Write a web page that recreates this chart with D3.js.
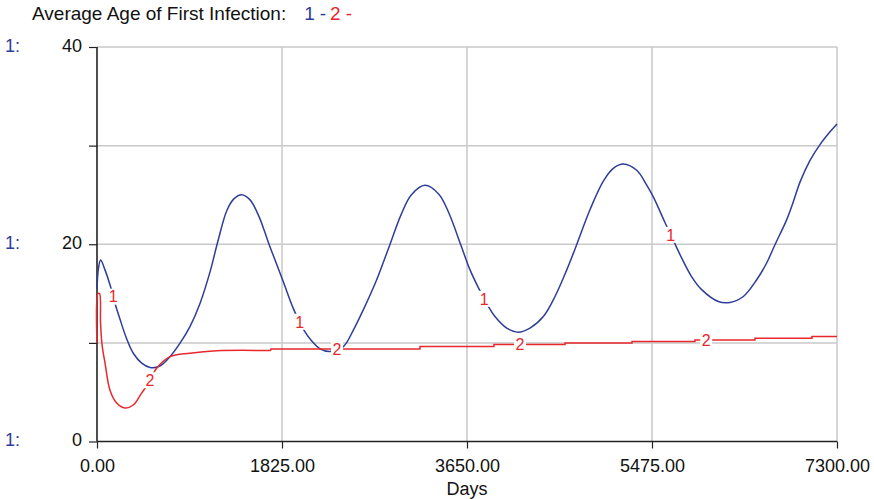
<!DOCTYPE html>
<html>
<head>
<meta charset="utf-8">
<script src="https://cdn.jsdelivr.net/npm/d3@7"></script>
<style>
  html, body { margin: 0; padding: 0; background: #fff; }
  svg { display: block; font-family: "Liberation Sans", Arial, Helvetica, sans-serif; }
</style>
</head>
<body>
<svg id="chart" width="874" height="499"></svg>
<script>
// Series 1: average age of first infection (days, years)
const series1 = [
  [0, 15.5], [15, 17.6], [36, 18.4], [79, 17.4], [128, 15.9], [178, 14.0],
  [227, 12.4], [293, 10.4], [358, 8.95], [441, 7.94], [523, 7.5], [621, 7.66],
  [720, 8.6], [819, 9.97], [917, 11.65], [1016, 14.0], [1115, 17.2], [1190, 20.2],
  [1280, 23.4], [1350, 24.6], [1427, 25.03], [1510, 24.5], [1590, 23.0],
  [1650, 21.4], [1697, 20.0], [1760, 18.3], [1838, 16.2], [1936, 13.5],
  [2035, 11.4], [2118, 10.2], [2200, 9.4], [2298, 9.12], [2430, 9.62],
  [2529, 11.3], [2627, 13.35], [2759, 16.4], [2880, 19.7], [3000, 23.0],
  [3100, 25.0], [3236, 25.97], [3370, 25.1], [3470, 23.2], [3590, 19.9],
  [3680, 17.4], [3762, 15.6], [3844, 14.0], [3926, 12.67], [4042, 11.5],
  [4156, 11.09], [4271, 11.5], [4403, 12.67], [4518, 14.7], [4634, 17.4],
  [4715, 19.5], [4863, 23.5], [4995, 26.4], [5093, 27.7], [5192, 28.14],
  [5324, 27.5], [5423, 26.0], [5488, 24.8], [5603, 22.2], [5685, 20.4],
  [5768, 18.6], [5867, 16.7], [5965, 15.4], [6129, 14.2], [6244, 14.1],
  [6376, 14.7], [6508, 16.4], [6606, 18.1], [6688, 19.95], [6804, 22.5],
  [6869, 24.3], [6935, 26.3], [7034, 28.5], [7132, 30.1], [7231, 31.4],
  [7300, 32.2]
];

// Series 2: comparison run; from day 1716 on it climbs in small steps
const series2 = [
  [0, 10.0], [10, 15.0], [25, 15.0], [35, 12.0], [50, 9.8], [80, 7.9],
  [128, 5.2], [194, 3.9], [276, 3.4], [358, 3.7], [440, 4.9], [506, 5.9],
  [587, 7.4], [720, 8.6], [917, 8.95], [1180, 9.2], [1716, 9.22], [1716, 9.39],
  [3186, 9.39], [3186, 9.62], [3916, 9.62], [3916, 9.83], [4617, 9.83],
  [4617, 10.0], [5278, 10.0], [5278, 10.13], [5899, 10.13], [5899, 10.3],
  [6491, 10.3], [6491, 10.48], [7053, 10.48], [7053, 10.64], [7300, 10.64]
];

// Where the series numbers sit along each curve (days)
const labelDays1 = [160, 2000, 3820, 5660];
const labelDays2 = [523, 2368, 4173, 6010];

const xTicks = [0, 1825, 3650, 5475, 7300];
const yTicks = [0, 10, 20, 30, 40];
const yLabelTicks = [0, 20, 40];

const title = "Average Age of First Infection:";
const xTitle = "Days";

const BLUE = "#2e3d98";
const RED = "#e8282c";
const GRID = "#c9c9c9";
const AXIS = "#222";
const FONT = 18;

const svg = d3.select("#chart");
const plotLeft = 97, plotRight = 837, plotTop = 47, plotBottom = 441.5;

const x = d3.scaleLinear().domain([0, 7300]).range([plotLeft, plotRight]);
const y = d3.scaleLinear().domain([0, 40]).range([plotBottom, plotTop]);

// Grid
svg.append("g").selectAll("line").data(yTicks.filter(d => d > 0)).join("line")
  .attr("x1", plotLeft).attr("x2", plotRight)
  .attr("y1", d => y(d)).attr("y2", d => y(d))
  .attr("stroke", GRID).attr("stroke-width", 1.5);
svg.append("g").selectAll("line").data(xTicks.filter(d => d > 0)).join("line")
  .attr("x1", d => x(d)).attr("x2", d => x(d))
  .attr("y1", plotTop).attr("y2", plotBottom)
  .attr("stroke", GRID).attr("stroke-width", 1.5);

// Axes
const yAxis = d3.axisLeft(y).tickValues(yTicks).tickSize(8).tickFormat("");
svg.append("g").attr("transform", `translate(${plotLeft},0)`).call(yAxis)
  .call(g => g.select(".domain").attr("stroke", AXIS).attr("stroke-width", 1.6).attr("d", `M0,${plotBottom}V${plotTop}`))
  .call(g => g.selectAll(".tick line").attr("stroke", AXIS).attr("stroke-width", 1.2));

const xAxis = d3.axisBottom(x).tickValues(xTicks).tickSize(7).tickPadding(11)
  .tickFormat(d => d3.format(".2f")(d));
svg.append("g").attr("transform", `translate(0,${plotBottom})`).call(xAxis)
  .call(g => g.select(".domain").attr("stroke", AXIS).attr("stroke-width", 1.6).attr("d", `M${plotLeft},0H${plotRight}`))
  .call(g => g.selectAll(".tick line").attr("stroke", AXIS).attr("stroke-width", 1.2))
  .call(g => g.selectAll(".tick text").attr("fill", "#111").attr("font-size", FONT)
    .attr("font-family", "'Liberation Sans', Arial, sans-serif"));

// Y tick labels and series prefixes
svg.append("g").selectAll("text").data(yLabelTicks).join("text")
  .attr("x", 82).attr("y", d => y(d)).attr("dy", "0.26em")
  .attr("text-anchor", "end").attr("font-size", FONT).attr("fill", "#111")
  .text(d => d);
svg.append("g").selectAll("text").data(yLabelTicks).join("text")
  .attr("x", 5).attr("y", d => y(d)).attr("dy", "0.26em")
  .attr("font-size", FONT).attr("fill", BLUE)
  .text("1:");

// X title
svg.append("text").attr("x", (plotLeft + plotRight) / 2).attr("y", 495)
  .attr("text-anchor", "middle").attr("font-size", FONT).attr("fill", "#111")
  .text(xTitle);

// Title with series key
const t = svg.append("text").attr("x", 32).attr("y", 20).attr("font-size", 19).attr("fill", "#111");
t.append("tspan").text(title);
t.append("tspan").attr("dx", 18).attr("fill", BLUE).text("1");
t.append("tspan").attr("dx", 5).attr("fill", BLUE).text("-");
t.append("tspan").attr("dx", 4).attr("fill", RED).text("2");
t.append("tspan").attr("dx", 5).attr("fill", RED).text("-");

// Lines
const smooth = d3.line().x(d => x(d[0])).y(d => y(d[1])).curve(d3.curveCatmullRom.alpha(0.5));
const straight = d3.line().x(d => x(d[0])).y(d => y(d[1]));

svg.append("path").datum(series1).attr("d", smooth)
  .attr("fill", "none").attr("stroke", BLUE).attr("stroke-width", 1.5);

// Series 2: smooth up to the first step, then the flat steps
const stepStart = series2.findIndex((d, i) => i > 0 && d[0] === series2[i - 1][0]);
svg.append("path").datum(series2.slice(0, stepStart)).attr("d", smooth)
  .attr("fill", "none").attr("stroke", RED).attr("stroke-width", 1.5);
svg.append("path").datum(series2.slice(stepStart - 1)).attr("d", straight)
  .attr("fill", "none").attr("stroke", RED).attr("stroke-width", 1.5);

// Value of a series at a given day (linear between points)
function valueAt(series, day) {
  for (let i = 1; i < series.length; i++) {
    const [d0, v0] = series[i - 1], [d1, v1] = series[i];
    if (day >= d0 && day <= d1) {
      return d1 === d0 ? v1 : v0 + (v1 - v0) * (day - d0) / (d1 - d0);
    }
  }
  return series[series.length - 1][1];
}

function drawLabels(series, days, name) {
  const g = svg.append("g");
  days.forEach(day => {
    const px = x(day), py = y(valueAt(series, day));
    g.append("rect").attr("x", px - 6).attr("y", py - 8).attr("width", 12).attr("height", 16)
      .attr("fill", "#fff");
    g.append("text").attr("x", px).attr("y", py).attr("dy", "0.36em")
      .attr("text-anchor", "middle").attr("font-size", 16).attr("fill", RED)
      .text(name);
  });
}
drawLabels(series1, labelDays1, "1");
drawLabels(series2, labelDays2, "2");
</script>
</body>
</html>
